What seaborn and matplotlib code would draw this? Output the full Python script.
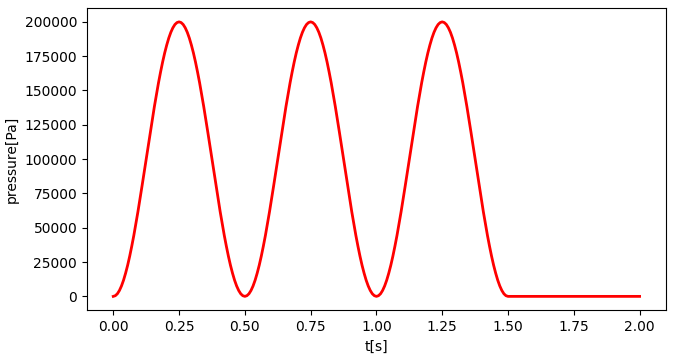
import pandas as pd
import seaborn as sns
import matplotlib.pyplot as plt

cycle_p = [0, 500, 1900, 4300, 7600, 11800, 16900, 22700,
           29300, 36600, 44400, 52900, 61700, 71000, 80500, 90200,
           100000, 109800, 119500, 129000, 138300, 147100, 155600, 163400,
           170700, 177300, 183100, 188200, 192400, 195700, 198100, 199500,
           200000, 199500, 198100, 195700, 192400, 188200, 183100, 177300,
           170700, 163400, 155600, 147100, 138300, 129000, 119500, 109800,
           100000, 90200, 80500, 71000, 61700, 52900, 44400, 36600,
           29300, 22700, 16900, 11800, 7600, 4300, 1900, 500]
cycle_t = [i / 128 for i in range(len(cycle_p))]
n_cycles = 3

# after 1.5 s the pressure stays at zero
flat_t = [1.5, 2.0]
flat_p = [0, 0]

t = []
p = []
for k in range(n_cycles):
    t += [0.5 * k + x for x in cycle_t]
    p += cycle_p
t += flat_t
p += flat_p

df = pd.DataFrame({"t": t, "pressure": p})

fig = plt.figure(figsize=(6.74, 3.54), dpi=100)
ax = fig.add_axes([0.129, 0.124, 0.859, 0.853])
sns.lineplot(data=df, x="t", y="pressure", color="red", linewidth=2, ax=ax,
             estimator=None, sort=False)
ax.set_xlabel("t[s]")
ax.set_ylabel("pressure[Pa]")
ax.set_xticks([0.0, 0.25, 0.5, 0.75, 1.0, 1.25, 1.5, 1.75, 2.0])
ax.set_yticks(range(0, 200001, 25000))

fig.savefig("out.png", dpi=100)
